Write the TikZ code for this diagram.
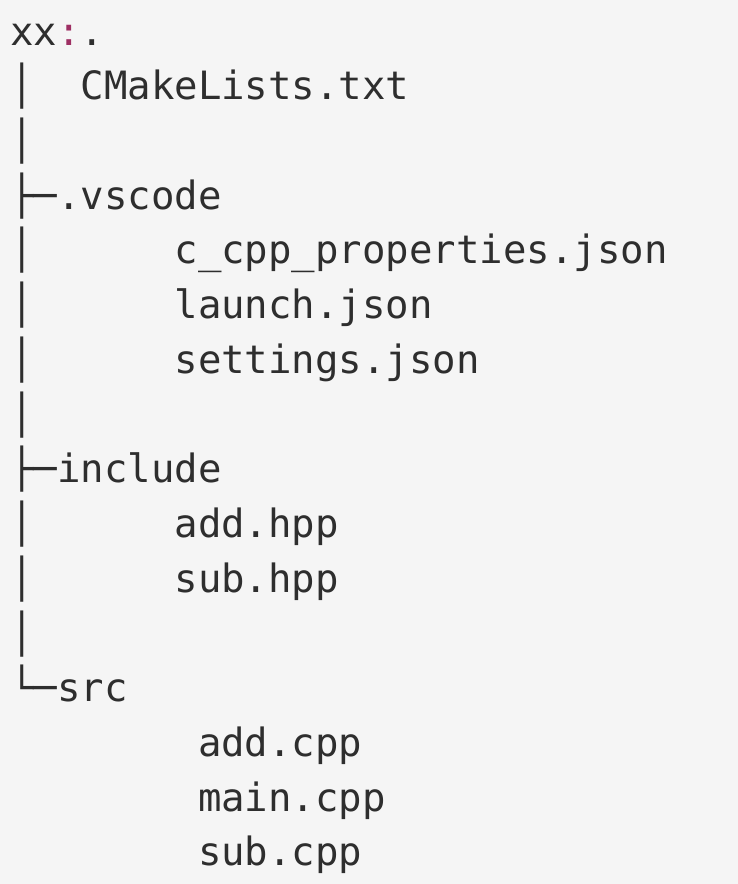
\documentclass[tikz,border=0pt]{standalone}
\usepackage{fontspec}
\setmonofont{DejaVu Sans Mono}
\definecolor{codebg}{HTML}{F5F5F5}
\definecolor{codetext}{HTML}{2E2E2E}
\definecolor{colonred}{HTML}{9E2F63}
\newcommand{\rowy}[1]{45+54.73*#1}
\newcommand{\colx}[1]{10+23.48*#1}

\begin{document}
\begin{tikzpicture}[x=1pt,y=-1pt,
    listing/.style={anchor=base west, inner sep=0pt, text=codetext,
      font=\ttfamily\fontsize{39}{47}\selectfont}]
    \fill[codebg] (0,0) rectangle (738,884);
    \useasboundingbox (0,0) rectangle (738,884);
    % root
    \node[listing] (root) at ({\colx{0}},{\rowy{0}}) {xx\textcolor{colonred}{:}.};
    % tree lines
    \foreach \r in {1,2,4,5,6,7,9,10,11}
        \node[listing] (bar\r) at ({\colx{0}},{\rowy{\r}}) {│};
    \node[listing] (tee3) at ({\colx{0}},{\rowy{3}}) {├─};
    \node[listing] (tee8) at ({\colx{0}},{\rowy{8}}) {├─};
    \node[listing] (end12) at ({\colx{0}},{\rowy{12}}) {└─};
    % files
    \node[listing] (cmake) at ({\colx{3}},{\rowy{1}}) {CMakeLists.txt};
    \node[listing] (vscode) at ({\colx{2}},{\rowy{3}}) {.vscode};
    \node[listing] (props) at ({\colx{7}},{\rowy{4}}) {c\_cpp\_properties.json};
    \node[listing] (launch) at ({\colx{7}},{\rowy{5}}) {launch.json};
    \node[listing] (settings) at ({\colx{7}},{\rowy{6}}) {settings.json};
    \node[listing] (include) at ({\colx{2}},{\rowy{8}}) {include};
    \node[listing] (addh) at ({\colx{7}},{\rowy{9}}) {add.hpp};
    \node[listing] (subh) at ({\colx{7}},{\rowy{10}}) {sub.hpp};
    \node[listing] (src) at ({\colx{2}},{\rowy{12}}) {src};
    \node[listing] (addc) at ({\colx{8}},{\rowy{13}}) {add.cpp};
    \node[listing] (mainc) at ({\colx{8}},{\rowy{14}}) {main.cpp};
    \node[listing] (subc) at ({\colx{8}},{\rowy{15}}) {sub.cpp};
\end{tikzpicture}
\end{document}
